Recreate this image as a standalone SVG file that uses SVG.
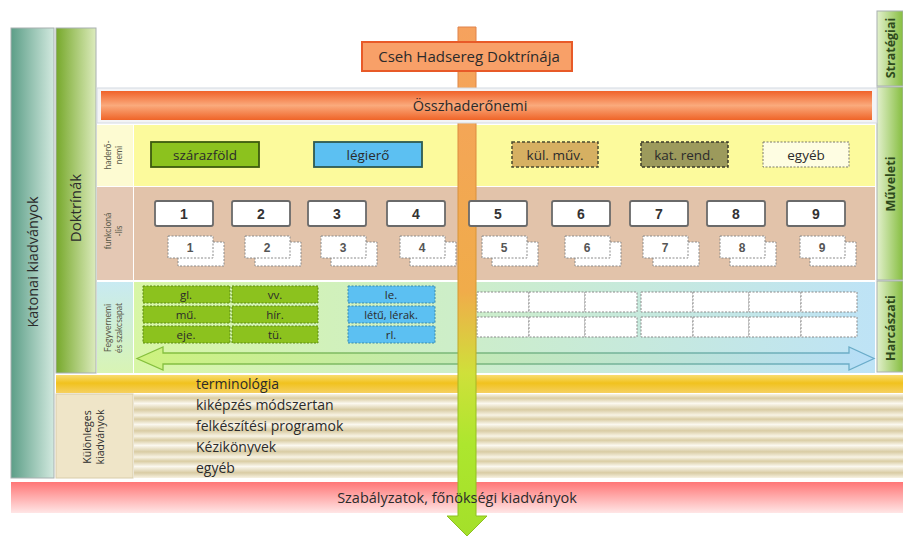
<svg xmlns="http://www.w3.org/2000/svg" width="903" height="536" viewBox="0 0 903 536">
<defs>
<linearGradient id="gKat" x1="0" y1="0" x2="1" y2="0"><stop offset="0" stop-color="#5c9e87"/><stop offset="1" stop-color="#d2e9df"/></linearGradient>
<linearGradient id="gDok" x1="0" y1="0" x2="1" y2="0"><stop offset="0" stop-color="#76a82a"/><stop offset="1" stop-color="#dcebbd"/></linearGradient>
<linearGradient id="gLvl" x1="0" y1="0" x2="1" y2="0"><stop offset="0" stop-color="#e2f0cc"/><stop offset="1" stop-color="#86be40"/></linearGradient>
<linearGradient id="gOssz" x1="0" y1="0" x2="0" y2="1"><stop offset="0" stop-color="#f0622a"/><stop offset="0.5" stop-color="#faaa7c"/><stop offset="1" stop-color="#ef6428"/></linearGradient>
<linearGradient id="gFegy" x1="0" y1="0" x2="1" y2="0"><stop offset="0" stop-color="#d8f6a6"/><stop offset="1" stop-color="#bee3f6"/></linearGradient>
<linearGradient id="gFegyL" x1="0" y1="0" x2="0" y2="1"><stop offset="0" stop-color="#c8eaf2"/><stop offset="1" stop-color="#d8f4b4"/></linearGradient>
<linearGradient id="gDbl" x1="0" y1="0" x2="1" y2="0"><stop offset="0" stop-color="#cdf27e"/><stop offset="1" stop-color="#b6def8"/></linearGradient>
<linearGradient id="gDblS" x1="0" y1="0" x2="1" y2="0"><stop offset="0" stop-color="#86c03a"/><stop offset="1" stop-color="#6aaccc"/></linearGradient>
<linearGradient id="gTerm" x1="0" y1="0" x2="0" y2="1"><stop offset="0" stop-color="#f8dc70"/><stop offset="0.45" stop-color="#f1c21e"/><stop offset="1" stop-color="#f6d060"/></linearGradient>
<linearGradient id="gStripe" x1="0" y1="0" x2="0" y2="1"><stop offset="0" stop-color="#f8f4e6"/><stop offset="0.2" stop-color="#dacda4"/><stop offset="0.45" stop-color="#fbf8ef"/><stop offset="0.75" stop-color="#d9cca4"/><stop offset="1" stop-color="#f7f2e2"/></linearGradient>
<linearGradient id="gSzab" x1="0" y1="0" x2="0" y2="1"><stop offset="0" stop-color="#ff7676"/><stop offset="1" stop-color="#ffe6e6"/></linearGradient>
<linearGradient id="gArrow" gradientUnits="userSpaceOnUse" x1="0" y1="27" x2="0" y2="536"><stop offset="0" stop-color="#f6a25e"/><stop offset="0.52" stop-color="#f0ac4a"/><stop offset="0.68" stop-color="#cfe03a"/><stop offset="0.82" stop-color="#ade62e"/><stop offset="1" stop-color="#a4e02a"/></linearGradient>
<linearGradient id="gArrowS" gradientUnits="userSpaceOnUse" x1="0" y1="27" x2="0" y2="536"><stop offset="0" stop-color="#e0824a"/><stop offset="0.55" stop-color="#d49a30"/><stop offset="0.75" stop-color="#98c020"/><stop offset="1" stop-color="#8cc020"/></linearGradient>
<style>
.t{font-family:"Open Sans",Lato,"Liberation Sans",sans-serif;fill:#2b2b2b}
.c{text-anchor:middle}
.n{font-family:"Liberation Sans",Arial,sans-serif;font-weight:bold;fill:#333;text-anchor:middle}
.sn{font-family:"Liberation Sans",Arial,sans-serif;font-weight:bold;fill:#555;text-anchor:middle;font-size:12px}
.lbl{font-family:Lato,"Liberation Sans",sans-serif;fill:#5a5a4a;font-size:8.5px;text-anchor:middle}
.lvl{font-family:"Open Sans",Lato,sans-serif;font-weight:bold;fill:#2e4a1c;font-size:12.5px;text-anchor:middle}
.topbox{fill:#fff;stroke:#6a6a6a;stroke-width:1.8}
.dbox{fill:#fff;stroke:#8a8a8a;stroke-width:1;stroke-dasharray:2 1.5}
.gbox{fill:#8cc21e;stroke:#5a8a10;stroke-width:1;stroke-dasharray:2 1.5}
.bbox{fill:#5cc0f2;stroke:#3a8aa8;stroke-width:1;stroke-dasharray:2 1.5}
.wcell{fill:#fff;stroke:#8a8a8a;stroke-width:1;stroke-dasharray:2 1.5}
.col{stroke:#a8b0b0;stroke-width:1}
</style>
</defs>

<g id="katonai-kiadvanyok">
<rect x="11" y="28" width="43" height="450" fill="url(#gKat)" class="col"/>
<text class="t c" transform="translate(38,262) rotate(-90)" font-size="14.5" fill="#263f35">Katonai kiadványok</text>
</g>

<g id="doktrinak">
<rect x="56" y="28" width="40" height="345" fill="url(#gDok)" class="col"/>
<text class="t c" transform="translate(81,208) rotate(-90)" font-size="15">Doktrínák</text>
</g>

<g id="szint-strategiai">
<rect x="877" y="11" width="26" height="75" fill="url(#gLvl)" class="col"/>
<text class="lvl" transform="translate(895,48) rotate(-90)">Stratégiai</text>
</g>
<g id="szint-muveleti">
<rect x="877" y="87" width="26" height="193" fill="url(#gLvl)" class="col"/>
<text class="lvl" transform="translate(895,184) rotate(-90)">Műveleti</text>
</g>
<g id="szint-harcaszati">
<rect x="877" y="281" width="26" height="91" fill="url(#gLvl)" class="col"/>
<text class="lvl" transform="translate(895,328) rotate(-90)">Harcászati</text>
</g>

<g id="row-haderonemi">
<rect x="97" y="125" width="36" height="61" fill="#fdfbd2"/>
<rect x="134" y="125" width="741" height="61" fill="#fcfa9c"/>
<text class="lbl" transform="translate(111,155) rotate(-90)">haderő-</text>
<text class="lbl" transform="translate(122,155) rotate(-90)">nemi</text>
</g>

<g id="row-funkcionalis">
<rect x="97" y="187" width="36" height="93" fill="#e4c8b4"/>
<rect x="134" y="187" width="741" height="93" fill="#e2c3aa"/>
<text class="lbl" transform="translate(111,231) rotate(-90)">funkcioná</text>
<text class="lbl" transform="translate(122,231) rotate(-90)">-lis</text>
</g>

<g id="row-fegyvernemi">
<rect x="97" y="282" width="36" height="91" fill="url(#gFegyL)"/>
<rect x="134" y="282" width="741" height="91" fill="url(#gFegy)"/>
<text class="lbl" transform="translate(111,328) rotate(-90)">Fegyvernemi</text>
<text class="lbl" transform="translate(122,328) rotate(-90)">és szakcsapat</text>
</g>

<g id="terminologia">
<rect x="56" y="375" width="847" height="18" fill="url(#gTerm)"/>
<text class="t" x="196" y="389" font-size="14">terminológia</text>
</g>

<g id="kulonleges-kiadvanyok">
<rect x="56" y="394" width="77" height="84" fill="#efe5c8" stroke="#d8ccaa" stroke-width="1"/>
<text class="t c" transform="translate(91,437) rotate(-90)" font-size="10.5">Különleges</text>
<text class="t c" transform="translate(104,437) rotate(-90)" font-size="10.5">kiadványok</text>
</g>
<g id="row-kikepzes">
<rect x="134" y="394" width="769" height="21" fill="url(#gStripe)"/>
<text class="t" x="196" y="410" font-size="14">kiképzés módszertan</text>
</g>
<g id="row-felkeszitesi">
<rect x="134" y="415" width="769" height="21" fill="url(#gStripe)"/>
<text class="t" x="196" y="431" font-size="14">felkészítési programok</text>
</g>
<g id="row-kezikonyvek">
<rect x="134" y="436" width="769" height="21" fill="url(#gStripe)"/>
<text class="t" x="196" y="452" font-size="14">Kézikönyvek</text>
</g>
<g id="row-egyeb">
<rect x="134" y="457" width="769" height="21" fill="url(#gStripe)"/>
<text class="t" x="196" y="473" font-size="14">egyéb</text>
</g>

<g id="szabalyzatok-bg">
<rect x="11" y="482" width="892" height="31" fill="url(#gSzab)"/>
</g>

<g id="haderonemi-boxes">
<g id="szarazfold"><rect x="151" y="142" width="108" height="25" fill="#8cc21e" stroke="#3c5a0e" stroke-width="1.8"/><text class="t c" x="205" y="160" font-size="13.5">szárazföld</text></g>
<g id="legiero"><rect x="314" y="142" width="108" height="25" fill="#5cc0f2" stroke="#2e5a50" stroke-width="1.8"/><text class="t c" x="368" y="160" font-size="13.5">légierő</text></g>
<g id="kul-muv"><rect x="512" y="142" width="86" height="25" fill="#d6b062" stroke="#4a4a30" stroke-width="1.5" stroke-dasharray="3 2"/><text class="t c" x="555" y="160" font-size="13.5">kül. műv.</text></g>
<g id="kat-rend"><rect x="641" y="142" width="87" height="25" fill="#9c9a5c" stroke="#3a3a2a" stroke-width="1.5" stroke-dasharray="3 2"/><text class="t c" x="684" y="160" font-size="13.5">kat. rend.</text></g>
<g id="egyeb-box"><rect x="763" y="142" width="86" height="25" fill="#fefde2" stroke="#7a7a6a" stroke-width="1" stroke-dasharray="2 1.5"/><text class="t c" x="806" y="160" font-size="13.5">egyéb</text></g>
</g>

<g id="fegyvernemi-boxes">
<g id="gl"><rect x="143" y="286" width="87" height="17" class="gbox"/><text class="t c" x="186" y="299" font-size="11.5">gl.</text></g>
<g id="vv"><rect x="232" y="286" width="86" height="17" class="gbox"/><text class="t c" x="275" y="299" font-size="11.5">vv.</text></g>
<g id="mu"><rect x="143" y="306" width="87" height="17" class="gbox"/><text class="t c" x="186" y="319" font-size="11.5">mű.</text></g>
<g id="hir"><rect x="232" y="306" width="86" height="17" class="gbox"/><text class="t c" x="275" y="319" font-size="11.5">hír.</text></g>
<g id="eje"><rect x="143" y="326" width="87" height="17" class="gbox"/><text class="t c" x="186" y="339" font-size="11.5">eje.</text></g>
<g id="tu"><rect x="232" y="326" width="86" height="17" class="gbox"/><text class="t c" x="275" y="339" font-size="11.5">tü.</text></g>
<g id="le"><rect x="348" y="286" width="87" height="17" class="bbox"/><text class="t c" x="391" y="299" font-size="11.5">le.</text></g>
<g id="letu"><rect x="348" y="306" width="87" height="17" class="bbox"/><text class="t c" x="391" y="319" font-size="11">létű, lérak.</text></g>
<g id="rl"><rect x="348" y="326" width="87" height="17" class="bbox"/><text class="t c" x="391" y="339" font-size="11.5">rl.</text></g>
<g id="white-grid">
<rect x="477" y="292" width="52" height="20" class="wcell"/><rect x="529" y="292" width="56" height="20" class="wcell"/><rect x="585" y="292" width="52" height="20" class="wcell"/>
<rect x="641" y="292" width="52" height="20" class="wcell"/><rect x="693" y="292" width="56" height="20" class="wcell"/><rect x="749" y="292" width="52" height="20" class="wcell"/><rect x="801" y="292" width="56" height="20" class="wcell"/>
<rect x="477" y="317" width="52" height="20" class="wcell"/><rect x="529" y="317" width="56" height="20" class="wcell"/><rect x="585" y="317" width="52" height="20" class="wcell"/>
<rect x="641" y="317" width="52" height="20" class="wcell"/><rect x="693" y="317" width="56" height="20" class="wcell"/><rect x="749" y="317" width="52" height="20" class="wcell"/><rect x="801" y="317" width="56" height="20" class="wcell"/>
</g>
</g>

<g id="connectors">
<path id="double-arrow" d="M137,358.5 L163,347 L163,353 L849,353 L849,347 L874,358.5 L849,370 L849,364 L163,364 L163,370 Z" fill="url(#gDbl)" stroke="url(#gDblS)" stroke-width="1.3"/>
<path id="main-arrow" d="M458,27 H476 V516 H487 L467,536 L447,516 H458 Z" fill="url(#gArrow)" stroke="url(#gArrowS)" stroke-width="1"/>
</g>

<g id="funkcionalis-boxes">
<g id="f1"><rect x="178" y="242" width="46" height="24" class="dbox"/><rect x="168" y="236" width="45" height="22" class="dbox"/><rect x="155" y="201" width="58" height="25" rx="2" class="topbox"/><text class="n" x="184" y="219" font-size="14">1</text><text class="sn" x="190" y="252">1</text></g>
<g id="f2"><rect x="255" y="242" width="46" height="24" class="dbox"/><rect x="245" y="236" width="45" height="22" class="dbox"/><rect x="232" y="201" width="58" height="25" rx="2" class="topbox"/><text class="n" x="261" y="219" font-size="14">2</text><text class="sn" x="267" y="252">2</text></g>
<g id="f3"><rect x="331" y="242" width="46" height="24" class="dbox"/><rect x="321" y="236" width="45" height="22" class="dbox"/><rect x="308" y="201" width="58" height="25" rx="2" class="topbox"/><text class="n" x="337" y="219" font-size="14">3</text><text class="sn" x="343" y="252">3</text></g>
<g id="f4"><rect x="410" y="242" width="46" height="24" class="dbox"/><rect x="400" y="236" width="45" height="22" class="dbox"/><rect x="387" y="201" width="58" height="25" rx="2" class="topbox"/><text class="n" x="416" y="219" font-size="14">4</text><text class="sn" x="422" y="252">4</text></g>
<g id="f5"><rect x="492" y="242" width="46" height="24" class="dbox"/><rect x="482" y="236" width="45" height="22" class="dbox"/><rect x="469" y="201" width="58" height="25" rx="2" class="topbox"/><text class="n" x="498" y="219" font-size="14">5</text><text class="sn" x="504" y="252">5</text></g>
<g id="f6"><rect x="575" y="242" width="46" height="24" class="dbox"/><rect x="565" y="236" width="45" height="22" class="dbox"/><rect x="552" y="201" width="58" height="25" rx="2" class="topbox"/><text class="n" x="581" y="219" font-size="14">6</text><text class="sn" x="587" y="252">6</text></g>
<g id="f7"><rect x="653" y="242" width="46" height="24" class="dbox"/><rect x="643" y="236" width="45" height="22" class="dbox"/><rect x="630" y="201" width="58" height="25" rx="2" class="topbox"/><text class="n" x="659" y="219" font-size="14">7</text><text class="sn" x="665" y="252">7</text></g>
<g id="f8"><rect x="730" y="242" width="46" height="24" class="dbox"/><rect x="720" y="236" width="45" height="22" class="dbox"/><rect x="707" y="201" width="58" height="25" rx="2" class="topbox"/><text class="n" x="736" y="219" font-size="14">8</text><text class="sn" x="742" y="252">8</text></g>
<g id="f9"><rect x="810" y="242" width="46" height="24" class="dbox"/><rect x="800" y="236" width="45" height="22" class="dbox"/><rect x="787" y="201" width="58" height="25" rx="2" class="topbox"/><text class="n" x="816" y="219" font-size="14">9</text><text class="sn" x="822" y="252">9</text></g>
</g>

<g id="osszhaderonemi">
<rect x="97" y="88" width="780" height="35" fill="#f3f4f6" stroke="#d4dae2" stroke-width="1"/>
<rect x="101" y="91" width="771" height="29" fill="url(#gOssz)"/>
<text class="t c" x="470" y="111" font-size="14.5" fill="#4a2e20">Összhaderőnemi</text>
</g>

<g id="cseh-hadsereg-doktrinaja">
<rect x="362" y="42" width="210" height="29" fill="#f8a068" stroke="#e85a28" stroke-width="2"/>
<text class="t c" x="469" y="62" font-size="15" fill="#3a2418">Cseh Hadsereg Doktrínája</text>
</g>

<g id="szabalyzatok">
<text class="t c" x="457" y="503" font-size="14.5" fill="#3a1a1a">Szabályzatok, főnökségi kiadványok</text>
</g>
</svg>
